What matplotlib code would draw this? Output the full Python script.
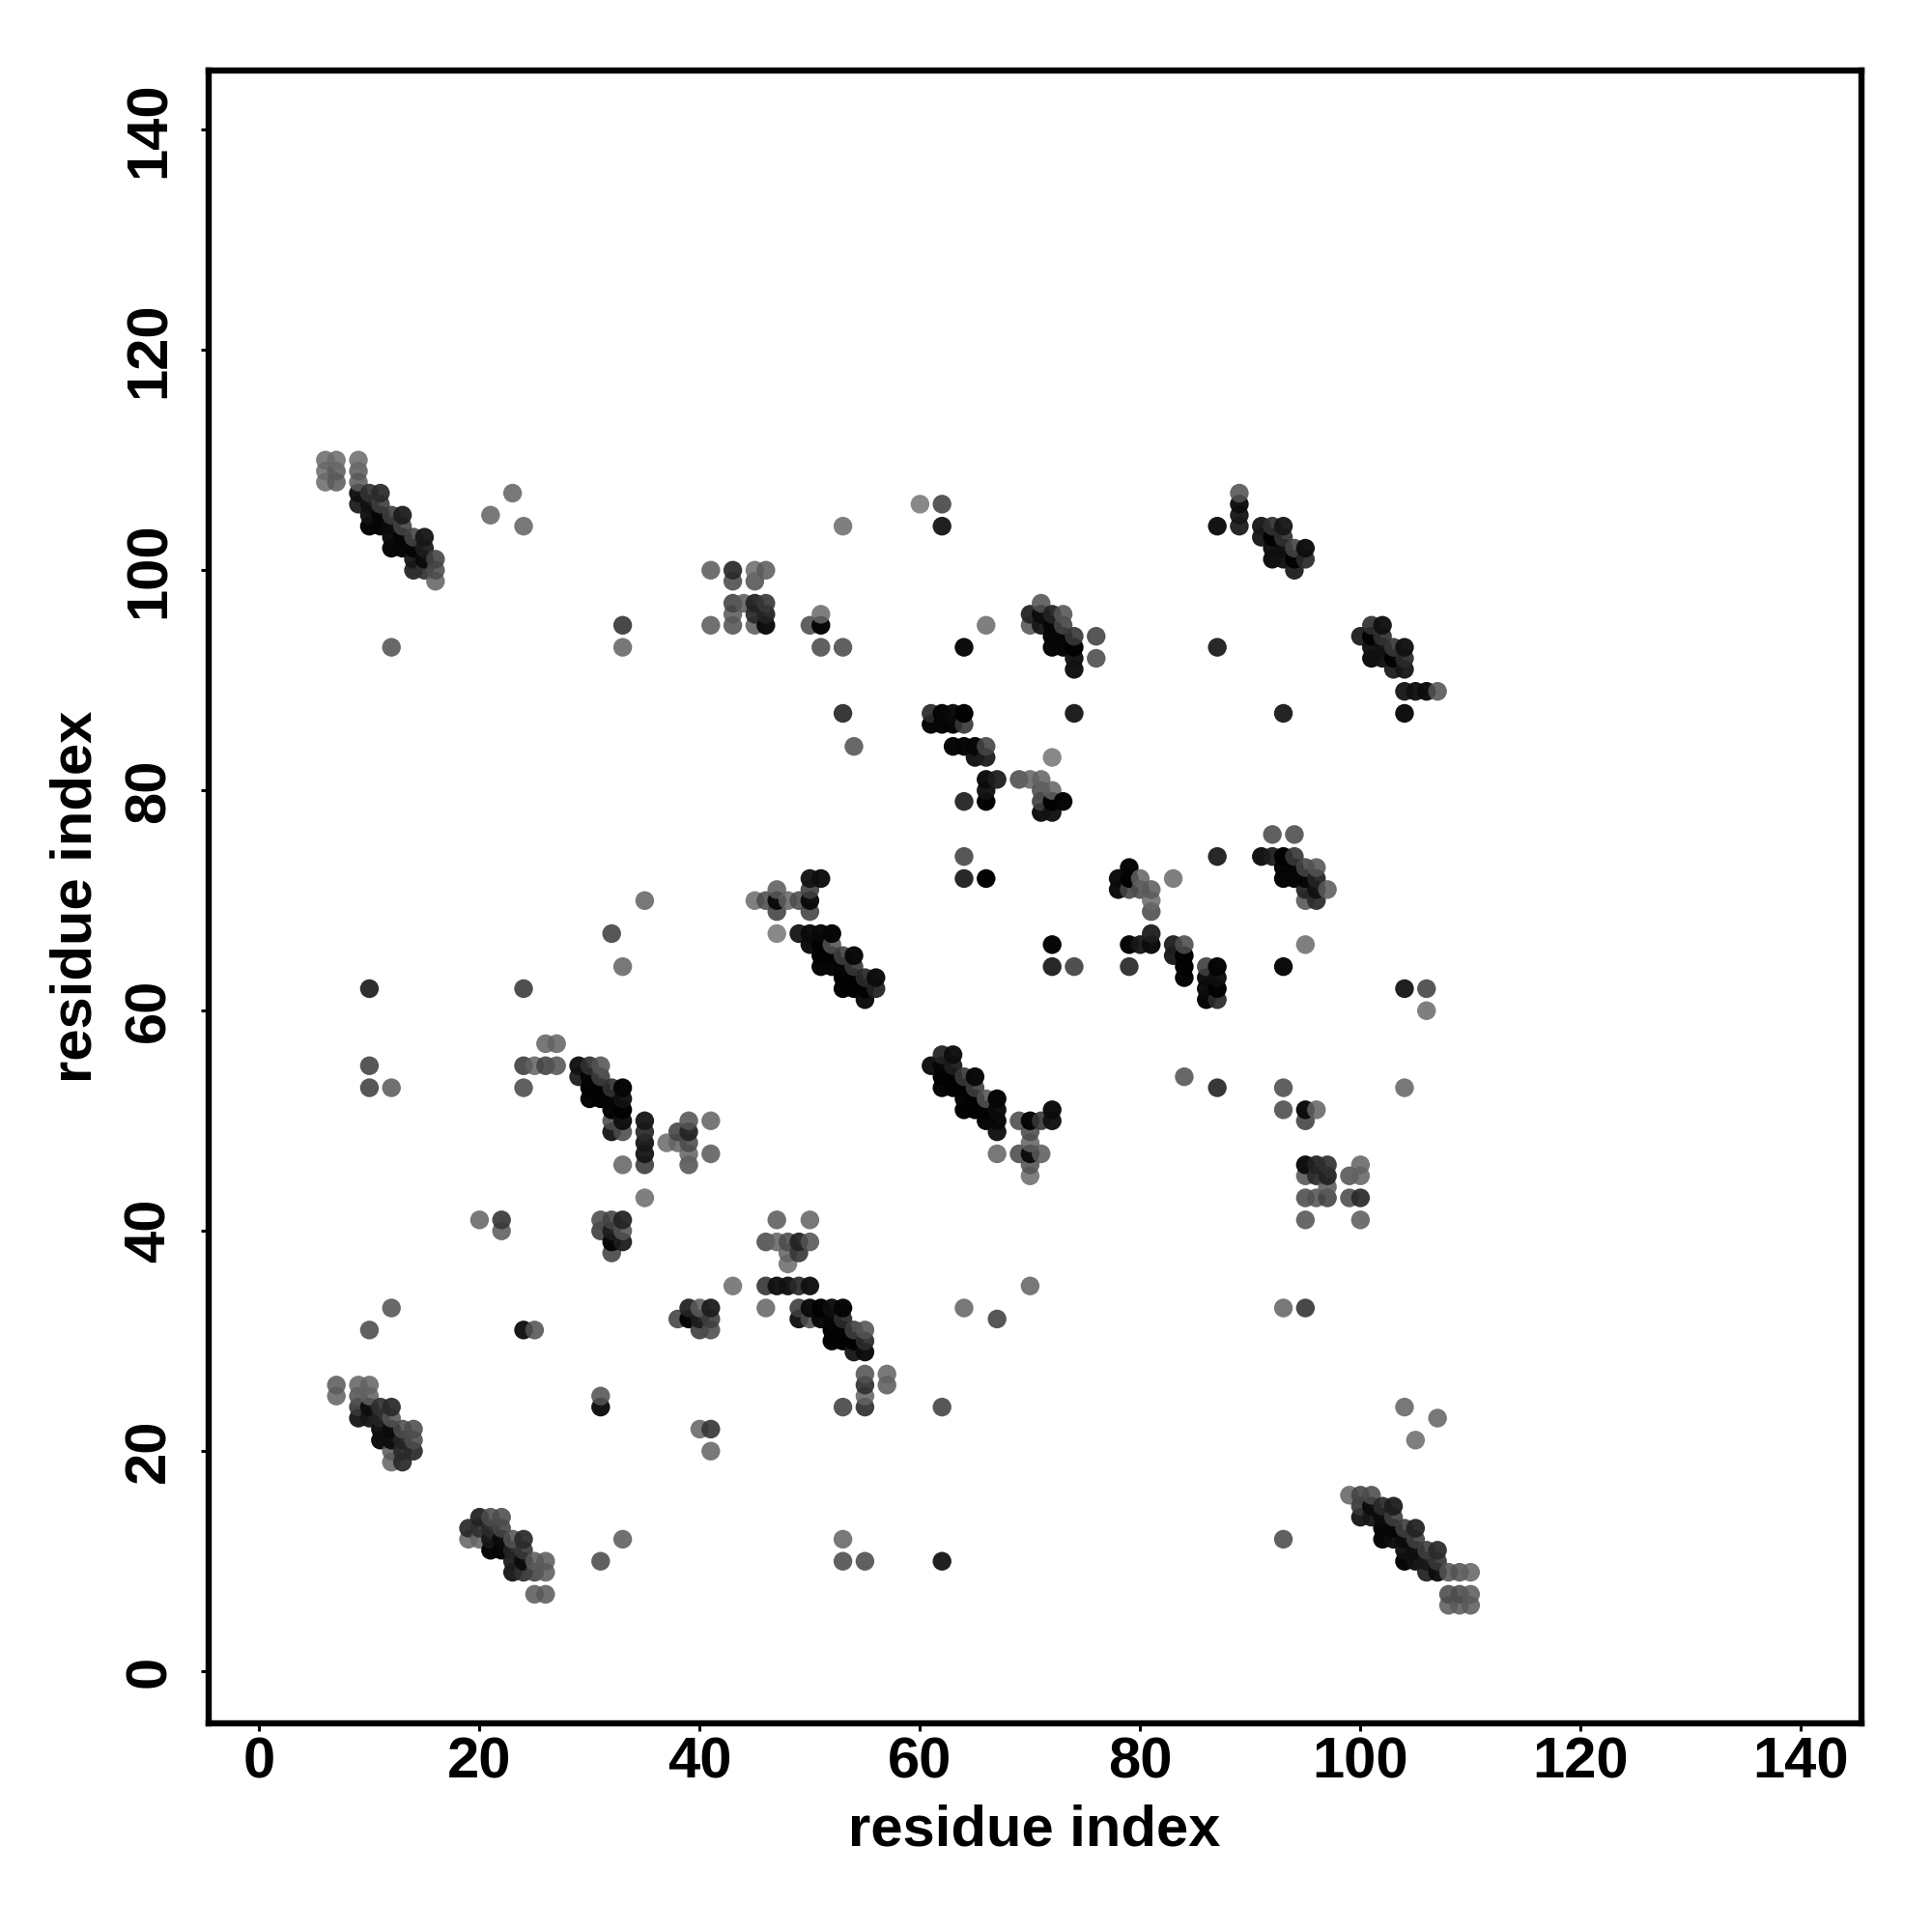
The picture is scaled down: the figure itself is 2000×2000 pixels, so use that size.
import matplotlib
matplotlib.use("Agg")
import matplotlib.pyplot as plt
import pandas as pd

plt.rcParams["font.family"] = ["Liberation Sans", "DejaVu Sans"]
plt.rcParams["font.weight"] = "bold"

# contacts: (residue i, residue j, gray level 0-255)
band_top_left = [
    (6,110,128),(6,109,128),(6,108,128),(7,110,128),(7,109,112),(7,108,112),
    (9,110,128),(9,109,112),(9,108,112),(9,107,24),(9,106,40),
    (10,107,64),(10,106,24),(10,105,24),(10,104,8),(11,107,56),(11,106,80),(11,105,8),(11,104,8),
    (12,105,80),(12,104,16),(12,103,16),(12,102,8),(13,105,40),(13,104,88),(13,103,8),(13,102,8),
    (14,103,88),(14,102,8),(14,101,32),(14,100,48),(15,103,32),(15,102,40),(15,101,16),(15,100,64),
    (16,101,88),(16,100,96),(16,99,120),
]
sparse_top = [
    (21,105,120),(23,107,120),(24,104,120),(12,93,104),(33,95,72),(33,93,120),
    (60,106,136),(62,106,88),(62,104,32),(53,104,128),(53,87,56),(54,84,104),
    (74,87,32),(64,93,12),(66,95,128),(87,104,20),(87,93,40),(93,87,36),(104,87,16),
    (72,83,136),(64,74,88),(64,72,40),(66,72,4),(87,74,40),
]
block_41_46 = [
    (41,100,112),(43,100,56),(43,99,96),(45,100,128),(45,99,104),(46,100,112),
    (43,97,88),(44,97,112),(45,97,48),(46,97,72),(43,96,112),(45,96,56),(46,96,48),
    (41,95,112),(43,95,104),(45,95,112),(46,95,16),
    (50,95,96),(51,95,8),(51,96,128),(51,93,96),(53,93,96),
]
block_70_76 = [
    (71,97,104),(70,96,48),(70,95,104),(71,96,16),(71,95,32),(72,96,48),(72,95,8),(72,94,8),(72,93,8),
    (73,96,104),(73,95,88),(73,94,8),(73,93,8),(74,94,72),(74,93,4),(74,92,24),(74,91,20),
    (76,94,88),(76,92,96),
]
block_61_73 = [
    (61,87,56),(62,87,8),(63,87,16),(64,87,4),(61,86,8),(62,86,8),(63,86,8),(64,86,72),
    (63,84,8),(64,84,8),(65,84,8),(66,84,88),(65,83,24),(66,83,40),
    (66,81,16),(67,81,40),(69,81,96),(70,81,120),(71,81,120),(66,80,24),(71,80,96),(72,80,120),
    (64,79,48),(66,79,4),(71,79,80),(72,79,4),(73,79,8),(71,78,20),(72,78,24),
]
block_89_95 = [
    (89,107,104),(89,106,20),(89,105,32),(89,104,40),(91,104,32),(91,103,32),
    (92,104,64),(93,104,32),(92,103,4),(93,103,64),(92,102,20),(93,102,20),(94,102,88),(95,102,20),
    (92,101,16),(93,101,24),(94,101,4),(95,101,56),(94,100,40),
]
block_100_107 = [
    (101,95,64),(102,95,24),(100,94,40),(101,94,4),(102,94,64),(101,93,24),(102,93,24),(103,93,72),(104,93,24),
    (101,92,16),(102,92,24),(103,92,4),(104,92,56),(103,91,40),(104,91,32),
    (104,89,32),(105,89,24),(106,89,16),(107,89,104),
]
block_45_56 = [
    (51,72,20),(50,72,28),(47,71,112),(45,70,128),(46,70,96),(47,70,16),(48,70,120),(49,70,96),
    (50,71,80),(50,70,16),(50,69,88),(47,69,88),(47,67,136),
    (49,67,32),(50,67,16),(51,67,12),(52,67,8),(50,66,16),(51,66,4),(52,66,104),
    (51,65,4),(52,65,4),(53,65,80),(54,65,12),(51,64,8),(52,64,8),(53,64,8),(54,64,72),
    (53,63,4),(54,63,4),(55,63,56),(56,63,16),(53,62,4),(54,62,4),(55,62,4),(56,62,48),(55,61,16),
]
block_61_72 = [
    (62,56,48),(63,56,20),(61,55,20),(62,55,8),(63,55,40),(62,54,4),(63,54,4),(64,54,72),(65,54,12),
    (62,53,8),(63,53,4),(64,53,4),(65,53,80),(64,52,8),(65,52,4),(66,52,104),(67,52,8),
    (64,51,4),(65,51,4),(66,51,4),(67,51,16),(66,50,8),(67,50,12),(69,50,96),(70,50,8),(71,50,72),(72,50,24),
    (72,51,16),(67,49,24),(70,49,96),(70,48,120),(67,47,120),(69,47,96),(70,47,16),(71,47,112),
    (70,46,104),(70,45,128),
]
block_78_87 = [
    (79,73,8),(78,72,16),(79,72,4),(80,72,120),(83,72,128),(78,71,16),(79,71,88),(80,71,96),(81,71,112),
    (81,70,128),(81,69,96),(81,67,40),(79,66,8),(80,66,32),(81,66,16),(83,66,40),(84,66,96),
    (83,65,32),(84,65,4),(79,64,56),(84,64,4),(86,64,80),(87,64,8),(84,63,8),(86,63,16),(87,63,20),
    (86,62,16),(87,62,4),(86,61,8),(87,61,56),(72,66,8),(72,64,40),(74,64,80),
]
block_91_97 = [
    (92,76,96),(94,76,96),(91,74,20),(92,74,40),(93,74,4),(94,74,72),(93,73,8),(94,73,8),(95,73,88),(96,73,104),
    (93,72,8),(94,72,8),(95,72,8),(96,72,48),(95,71,48),(96,71,24),(97,71,112),(95,70,104),(96,70,56),
    (95,66,128),(93,64,12),(104,62,32),(106,62,88),(106,60,128),(84,54,104),(87,53,56),(93,53,96),(104,53,120),
    (93,51,96),(95,51,16),(96,51,120),(95,50,88),
]
block_24_41 = [
    (26,57,120),(27,57,120),(24,55,80),(25,55,120),(26,55,88),(27,55,104),(24,53,96),
    (29,55,24),(30,55,64),(31,55,104),(29,54,40),(30,54,8),(31,54,80),(30,53,4),(31,53,4),(32,53,64),(33,53,8),
    (30,52,8),(31,52,4),(32,52,8),(33,52,24),(32,51,8),(33,51,4),(32,50,96),(33,50,20),(35,50,32),
    (32,49,32),(33,49,96),(35,49,56),(35,48,32),(35,47,32),(35,46,80),(33,46,120),(35,43,128),
    (39,50,104),(41,50,120),(38,49,88),(39,49,48),(37,48,128),(38,48,120),(39,48,96),(39,47,120),(41,47,112),(39,46,104),
]
block_20_50 = [
    (20,41,120),(22,41,72),(22,40,112),(31,41,96),(32,41,88),(33,41,48),(31,40,80),(32,40,40),(33,40,104),
    (32,39,8),(33,39,40),(32,38,88),(47,41,112),(50,41,120),(46,39,96),(47,39,120),(48,39,96),(49,39,48),(50,39,104),
    (48,38,120),(49,38,72),(48,37,128),(43,35,128),(46,35,72),(47,35,24),(48,35,24),(49,35,56),(50,35,24),
]
block_38_57 = [
    (39,33,48),(40,33,112),(41,33,40),(46,33,120),(49,33,80),(50,33,16),(51,33,4),(52,33,20),(53,33,8),
    (38,32,88),(39,32,8),(40,32,40),(41,32,80),(49,32,24),(50,32,96),(51,32,12),(52,32,8),(53,32,56),
    (24,31,24),(25,31,104),(40,31,80),(41,31,96),(52,31,4),(53,31,4),(54,31,80),(55,31,104),
    (52,30,4),(53,30,4),(54,30,4),(55,30,56),(54,29,32),(55,29,16),
    (55,27,104),(57,27,120),(55,26,64),(57,26,112),(31,25,104),(55,25,120),
    (31,24,20),(53,24,88),(55,24,64),(62,24,88),(40,22,120),(41,22,72),(41,20,120),
]
block_95_100 = [
    (95,46,16),(96,46,48),(97,46,64),(100,46,120),(95,45,104),(96,45,56),(97,45,48),(99,45,104),(100,45,120),
    (97,44,112),(95,43,96),(96,43,104),(97,43,88),(99,43,96),(100,43,56),(95,41,104),(100,41,112),
    (70,35,120),(64,33,120),(67,32,88),(93,33,120),(95,33,72),
]
band_low_left = [
    (7,26,112),(7,25,120),(9,26,120),(10,26,120),(9,25,104),(10,25,120),(9,24,72),(10,24,20),(11,24,64),(12,24,56),
    (9,23,32),(10,23,32),(11,23,48),(12,23,104),(11,22,20),(12,22,16),(13,22,96),(14,22,96),
    (11,21,16),(12,21,20),(13,21,48),(14,21,96),(12,20,112),(13,20,56),(14,20,56),(12,19,120),(13,19,56),
]
band_bottom = [
    (20,14,48),(21,14,96),(22,14,96),(19,13,56),(20,13,64),(21,13,56),(22,13,88),
    (19,12,120),(20,12,120),(21,12,32),(22,12,16),(23,12,104),(24,12,56),
    (21,11,8),(22,11,8),(23,11,48),(24,11,72),(23,10,40),(24,10,16),(25,10,112),(26,10,112),
    (23,9,32),(24,9,64),(25,9,88),(26,9,112),(25,7,112),(26,7,112),
    (33,12,112),(31,10,96),
]
band_bottom_right = [
    (99,16,120),(100,16,88),(101,16,96),(100,15,72),(101,15,16),(102,15,56),(103,15,40),
    (100,14,32),(101,14,32),(102,14,16),(103,14,80),(102,13,8),(103,13,8),(104,13,80),(105,13,48),
    (102,12,8),(103,12,20),(104,12,16),(105,12,80),(104,11,24),(105,11,20),(106,11,80),(107,11,56),
    (104,10,8),(105,10,24),(106,10,32),(107,10,72),(106,9,48),(107,9,20),(108,9,104),(109,9,104),(110,9,120),
    (108,7,96),(109,7,96),(110,7,112),(108,6,112),(109,6,112),(110,6,112),
]
singles = [
    (10,62,48),(24,62,80),(10,55,88),(10,53,88),(12,53,112),(105,21,128),(104,24,120),(107,23,120),
    (32,67,88),(33,64,120),(35,70,120),(10,31,96),(12,33,104),(53,12,120),(53,10,96),(55,10,96),
    (62,10,32),(93,12,96),
]

tick_values = [0, 20, 40, 60, 80, 100, 120, 140]
axis_label = "residue index"

contacts = pd.DataFrame(
    band_top_left + sparse_top + block_41_46 + block_70_76 + block_61_73 + block_89_95
    + block_100_107 + block_45_56 + block_61_72 + block_78_87 + block_91_97 + block_24_41
    + block_20_50 + block_38_57 + block_95_100 + band_low_left + band_bottom
    + band_bottom_right + singles,
    columns=["i", "j", "gray"],
)
contacts = contacts.drop_duplicates(["i", "j"]).sort_values(["i", "j"])

# light points are a bit see-through, dark ones nearly solid
alpha = 1 - 0.3 * contacts["gray"] / 255
source = ((contacts["gray"] - 255 * (1 - alpha)) / alpha).clip(lower=0)

fig = plt.figure(figsize=(20, 20), dpi=100)
ax = fig.add_axes([216 / 2000, 1 - 1784 / 2000, 1711 / 2000, 1711 / 2000])

ax.scatter(contacts["i"], contacts["j"], c=source, cmap="gray", vmin=0, vmax=255,
           alpha=alpha, s=195, linewidths=0, clip_on=False)

ax.set_xlim(-4.6, 145.5)
ax.set_ylim(-4.72, 145.38)
ax.set_xticks(tick_values)
ax.set_yticks(tick_values)
ax.tick_params(axis="both", length=6, width=2.2, labelsize=43)
ax.tick_params(axis="x", pad=4)
ax.tick_params(axis="y", pad=18)
for t in ax.get_yticklabels():
    t.set_rotation(90)
    t.set_va("center")
for s in ax.spines.values():
    s.set_linewidth(4.6)

fig.text(1071 / 2000, 1 - 1895 / 2000, axis_label, fontsize=43, fontweight="bold",
         ha="center", va="center")
fig.text(79 / 2000, 1 - 928 / 2000, axis_label, fontsize=43, fontweight="bold",
         ha="center", va="center", rotation=90)

fig.savefig("out.png", dpi=100)
